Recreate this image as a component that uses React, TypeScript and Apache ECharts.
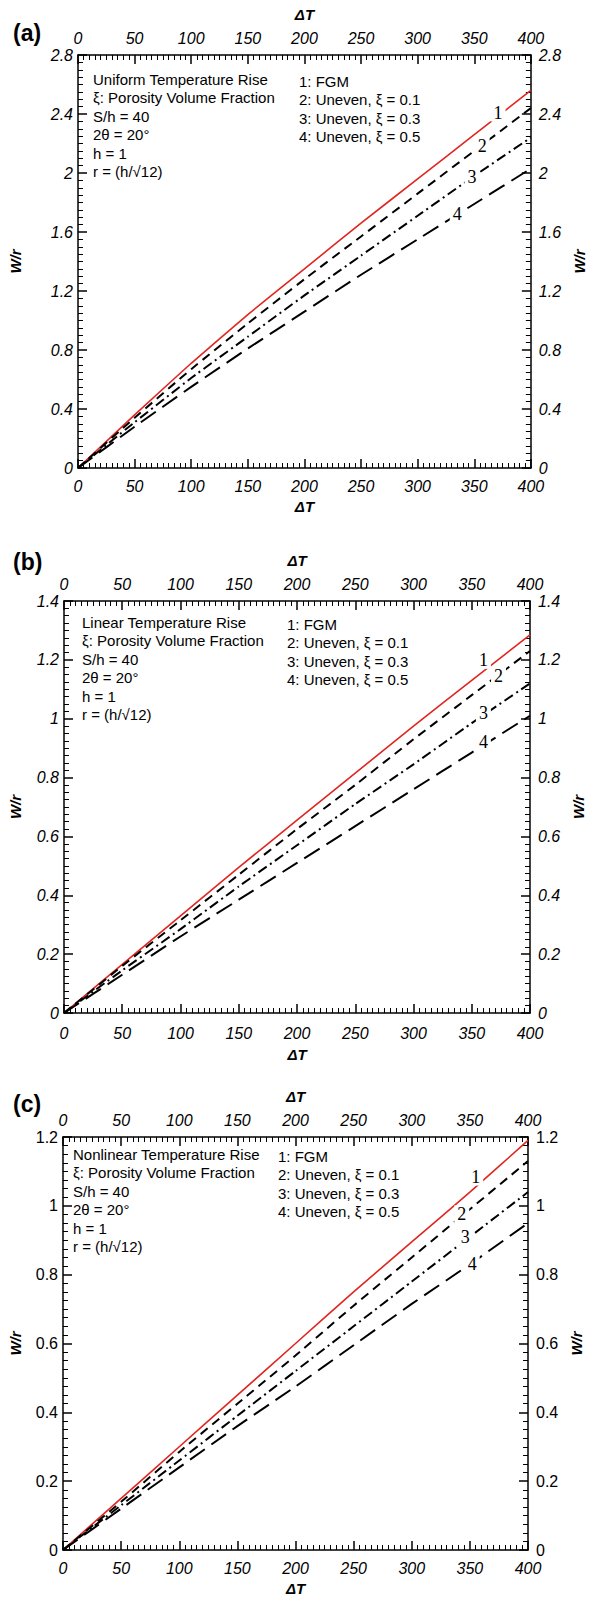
import React, { useEffect, useRef } from "react";
import * as echarts from "echarts";

// ΔT sample points
const deltaT = [0, 50, 100, 150, 200, 250, 300, 350, 400];

// Panel (a): Uniform temperature rise
const a_fgm = [0, 0.36, 0.71, 1.04, 1.35, 1.66, 1.96, 2.26, 2.56];
const a_u01 = [0, 0.34, 0.67, 0.98, 1.28, 1.57, 1.86, 2.15, 2.44];
const a_u03 = [0, 0.31, 0.61, 0.89, 1.17, 1.44, 1.71, 1.98, 2.24];
const a_u05 = [0, 0.28, 0.55, 0.81, 1.06, 1.31, 1.55, 1.79, 2.03];

// Panel (b): Linear temperature rise
const b_fgm = [0, 0.165, 0.33, 0.495, 0.655, 0.815, 0.975, 1.13, 1.285];
const b_u01 = [0, 0.16, 0.315, 0.47, 0.625, 0.775, 0.93, 1.08, 1.23];
const b_u03 = [0, 0.145, 0.285, 0.43, 0.57, 0.71, 0.845, 0.985, 1.12];
const b_u05 = [0, 0.13, 0.26, 0.385, 0.51, 0.635, 0.76, 0.885, 1.01];

// Panel (c): Nonlinear temperature rise
const c_fgm = [0, 0.15, 0.3, 0.45, 0.6, 0.75, 0.895, 1.04, 1.19];
const c_u01 = [0, 0.14, 0.285, 0.425, 0.565, 0.71, 0.85, 0.99, 1.13];
const c_u03 = [0, 0.13, 0.26, 0.39, 0.52, 0.65, 0.78, 0.91, 1.04];
const c_u05 = [0, 0.12, 0.24, 0.36, 0.475, 0.595, 0.715, 0.83, 0.95];

// Curve label anchors [ΔT, W/r]
const a_labels = [[371, 2.41], [357, 2.18], [348, 1.97], [335, 1.72]];
const b_labels = [[360, 1.2], [373, 1.145], [360, 1.02], [360, 0.92]];
const c_labels = [[355, 1.085], [343, 0.975], [346, 0.91], [352, 0.83]];
const curveNames = ["1", "2", "3", "4"];

// Axis settings
const xTickInterval = 50;
const a_yMax = 2.8, a_yInterval = 0.4;
const b_yMax = 1.4, b_yInterval = 0.2;
const c_yMax = 1.2, c_yInterval = 0.2;

const titles = ["Uniform Temperature Rise", "Linear Temperature Rise", "Nonlinear Temperature Rise"];
const infoLines = ["ξ: Porosity Volume Fraction", "S/h = 40", "2θ = 20°", "h = 1", "r = (h/√12)"];
const legendLines = ["1: FGM", "2: Uneven, ξ = 0.1", "3: Uneven, ξ = 0.3", "4: Uneven, ξ = 0.5"];
const panelTags = ["(a)", "(b)", "(c)"];

const FONT = "Liberation Sans, Arial, sans-serif";

export default function App() {
  const ref = useRef<HTMLDivElement>(null);
  useEffect(() => {
    if (!ref.current) return;
    const chart = echarts.init(ref.current, null, { renderer: "svg" });

    const grids = [
      { left: 77, top: 55, width: 466, height: 413 },
      { left: 63, top: 601, width: 467, height: 412 },
      { left: 62, top: 1137, width: 466, height: 413 },
    ];
    const yMax = [a_yMax, b_yMax, c_yMax];
    const yInt = [a_yInterval, b_yInterval, c_yInterval];
    const yItalic = ["italic", "italic", "normal"];
    const data = [
      [a_fgm, a_u01, a_u03, a_u05],
      [b_fgm, b_u01, b_u03, b_u05],
      [c_fgm, c_u01, c_u03, c_u05],
    ];
    const labels = [a_labels, b_labels, c_labels];
    const fmt = (v: number) => String(+v.toFixed(2));

    const xAxes: any[] = [];
    const yAxes: any[] = [];
    const series: any[] = [];
    const graphic: any[] = [];

    const lineStyles = [
      { color: "#e0261f", width: 1.6, type: "solid" },
      { color: "#000", width: 2, type: [9, 6] },
      { color: "#000", width: 2, type: [10, 4, 2, 4] },
      { color: "#000", width: 2, type: [18, 8] },
    ];

    grids.forEach((g, p) => {
      ["bottom", "top"].forEach((pos) => {
        xAxes.push({
          gridIndex: p,
          type: "value",
          position: pos,
          min: 0,
          max: 400,
          interval: xTickInterval,
          name: "ΔT",
          nameLocation: "middle",
          nameGap: pos === "bottom" ? (p === 1 ? 34 : 31) : 33,
          nameTextStyle: { fontFamily: FONT, fontSize: 15, fontWeight: "bold", fontStyle: "italic", color: "#000" },
          axisLine: { show: true, onZero: false, lineStyle: { color: "#000", width: 1.5 } },
          axisTick: { show: true, inside: true, length: 9, lineStyle: { color: "#000", width: 1.5 } },
          minorTick: { show: true, splitNumber: 10, length: 5, lineStyle: { color: "#000", width: 1 } },
          splitLine: { show: false },
          axisLabel: {
            margin: pos === "bottom" ? (p === 1 ? 12 : 10) : 9,
            fontFamily: FONT, fontSize: 16, fontStyle: "italic", color: "#000",
            showMinLabel: true, showMaxLabel: true, formatter: fmt,
          },
        });
      });
      ["left", "right"].forEach((pos) => {
        yAxes.push({
          gridIndex: p,
          type: "value",
          position: pos,
          min: 0,
          max: yMax[p],
          interval: yInt[p],
          name: "W/r",
          nameLocation: "middle",
          nameRotate: 90,
          nameGap: pos === "left" ? g.left - 22 : 36,
          nameTextStyle: { fontFamily: FONT, fontSize: 15, fontWeight: "bold", fontStyle: "italic", color: "#000" },
          axisLine: { show: true, onZero: false, lineStyle: { color: "#000", width: 1.5 } },
          axisTick: { show: true, inside: true, length: 9, lineStyle: { color: "#000", width: 1.5 } },
          minorTick: { show: true, splitNumber: 8, length: 5, lineStyle: { color: "#000", width: 1 } },
          splitLine: { show: false },
          axisLabel: {
            margin: pos === "left" ? 5 : 8,
            fontFamily: FONT, fontSize: 16, fontStyle: yItalic[p], color: "#000",
            showMinLabel: true, showMaxLabel: true, formatter: fmt,
          },
        });
      });

      data[p].forEach((vals, k) => {
        series.push({
          type: "line",
          xAxisIndex: p * 2,
          yAxisIndex: p * 2,
          data: deltaT.map((x, i) => [x, vals[i]]),
          showSymbol: false,
          symbol: "none",
          smooth: 0.15,
          lineStyle: lineStyles[k],
          z: 2,
        });
      });
      series.push({
        type: "scatter",
        xAxisIndex: p * 2,
        yAxisIndex: p * 2,
        symbolSize: 0,
        silent: true,
        data: labels[p].map((d, k) => ({ value: d, name: curveNames[k] })),
        label: {
          show: true,
          position: "inside",
          formatter: (prm: any) => prm.name,
          fontFamily: "Liberation Serif, Times New Roman, serif",
          fontSize: 18,
          color: "#000",
          opacity: 1,
          backgroundColor: "#fff",
          padding: [0, 3],
        },
        itemStyle: { opacity: 1 },
        z: 5,
      });

      // panel tag
      graphic.push({
        type: "text", left: 13, top: [21, 550, 1092][p],
        style: { text: panelTags[p], font: `bold 23px ${FONT}`, fill: "#000" },
      });
      const annX = [93, 82, 73][p];
      const annY = [79, 622, 1154][p];
      const legX = [299, 287, 278][p];
      const allLines = [titles[p], ...infoLines];
      allLines.forEach((t, i) => {
        graphic.push({
          type: "text", x: annX, y: annY + i * 18.5,
          style: { text: t, font: `15px ${FONT}`, fill: "#000", textVerticalAlign: "middle" },
        });
      });
      legendLines.forEach((t, i) => {
        graphic.push({
          type: "text", x: legX, y: annY + 2 + i * 18.5,
          style: { text: t, font: `15px ${FONT}`, fill: "#000", textVerticalAlign: "middle" },
        });
      });
    });

    chart.setOption({
      animation: false,
      backgroundColor: "#fff",
      grid: grids.map((g) => ({ ...g, containLabel: false })),
      xAxis: xAxes,
      yAxis: yAxes,
      series,
      graphic,
    });
    return () => chart.dispose();
  }, []);

  return (
    <div
      ref={ref}
      style={{ position: "absolute", left: 0, top: 0, width: 595, height: 1599, background: "#fff" }}
    />
  );
}
